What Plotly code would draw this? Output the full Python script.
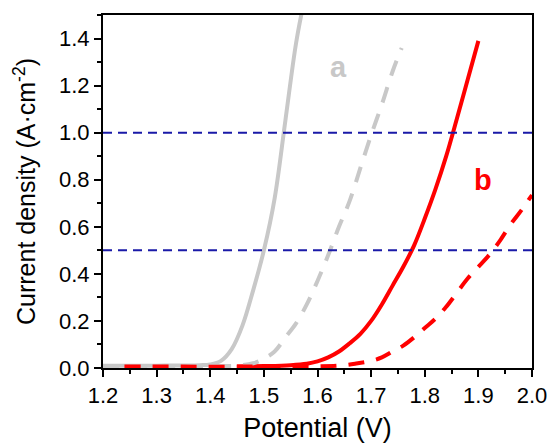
import plotly.graph_objects as go

# Curve a (grey) and curve b (red), solid and dashed
a_solid_v = [1.20, 1.30, 1.38, 1.40, 1.42, 1.44, 1.46, 1.48, 1.50, 1.52, 1.54, 1.56, 1.575]
a_solid_j = [0.010, 0.010, 0.012, 0.015, 0.030, 0.080, 0.180, 0.330, 0.500, 0.720, 1.050, 1.380, 1.560]

a_dash_v = [1.20, 1.40, 1.45, 1.48, 1.50, 1.52, 1.54, 1.56, 1.58, 1.60, 1.62, 1.64, 1.66, 1.68, 1.70, 1.72, 1.74, 1.757]
a_dash_j = [0.008, 0.008, 0.010, 0.020, 0.040, 0.070, 0.130, 0.190, 0.270, 0.370, 0.480, 0.600, 0.710, 0.850, 0.990, 1.120, 1.260, 1.360]

b_solid_v = [1.45, 1.50, 1.55, 1.58, 1.60, 1.62, 1.64, 1.66, 1.68, 1.70, 1.72, 1.74, 1.76, 1.78, 1.80, 1.82, 1.84, 1.86, 1.88, 1.90]
b_solid_j = [0.006, 0.008, 0.012, 0.018, 0.028, 0.045, 0.070, 0.105, 0.145, 0.200, 0.270, 0.350, 0.430, 0.520, 0.635, 0.760, 0.900, 1.060, 1.225, 1.390]

b_dash_v = [1.24, 1.50, 1.60, 1.64, 1.67, 1.70, 1.72, 1.74, 1.76, 1.78, 1.80, 1.82, 1.84, 1.86, 1.88, 1.90, 1.92, 1.94, 1.96, 1.98, 2.00]
b_dash_j = [0.006, 0.006, 0.007, 0.010, 0.018, 0.030, 0.045, 0.070, 0.095, 0.130, 0.170, 0.210, 0.260, 0.320, 0.380, 0.430, 0.480, 0.540, 0.610, 0.670, 0.735]

ref_levels = [1.0, 0.5]
x_ticks = [1.2, 1.3, 1.4, 1.5, 1.6, 1.7, 1.8, 1.9, 2.0]
y_ticks = [0.0, 0.2, 0.4, 0.6, 0.8, 1.0, 1.2, 1.4]
labels = [("a", 1.640, 1.28, "#c8c8c8"), ("b", 1.909, 0.80, "#ff0000")]

GREY = "#c8c8c8"
RED = "#ff0000"
FONT = "Liberation Sans, Arial, sans-serif"

fig = go.Figure()
fig.add_trace(go.Scatter(x=b_solid_v, y=b_solid_j, mode="lines",
                         line=dict(color=RED, width=4, shape="spline")))
fig.add_trace(go.Scatter(x=a_solid_v, y=a_solid_j, mode="lines",
                         line=dict(color=GREY, width=4, shape="spline")))
fig.add_trace(go.Scatter(x=a_dash_v, y=a_dash_j, mode="lines",
                         line=dict(color=GREY, width=4, dash="16px,12px", shape="spline")))
fig.add_trace(go.Scatter(x=b_dash_v, y=b_dash_j, mode="lines",
                         line=dict(color=RED, width=4, dash="16px,12px", shape="spline")))

for lv in ref_levels:
    fig.add_shape(type="line", xref="paper", x0=0, x1=1, yref="y", y0=lv, y1=lv,
                  line=dict(color="#1a1aa8", width=2, dash="9px,6px"))

for txt, xv, yv, col in labels:
    fig.add_annotation(x=xv, y=yv, text="<b>%s</b>" % txt, showarrow=False,
                       font=dict(family=FONT, size=29, color=col))

fig.update_layout(
    width=548, height=443,
    margin=dict(l=103, r=16, t=15, b=75),
    paper_bgcolor="white", plot_bgcolor="white",
    showlegend=False,
    font=dict(family=FONT, color="black"),
)
fig.update_xaxes(range=[1.2, 2.0], tickvals=x_ticks, tickformat=".1f", automargin=False,
                 showgrid=False, zeroline=False, showline=True, linecolor="black", linewidth=2,
                 mirror=True, ticks="outside", ticklen=7, tickwidth=2, tickcolor="black",
                 minor=dict(ticks="outside", ticklen=4, dtick=0.05, tickwidth=1.5, tickcolor="black"),
                 tickfont=dict(size=22, family=FONT),
                 title=dict(text="Potential (V)", font=dict(size=27, family=FONT), standoff=12))
fig.update_yaxes(range=[0, 1.5], tickvals=y_ticks, tickformat=".1f", automargin=False,
                 showgrid=False, zeroline=False, showline=True, linecolor="black", linewidth=2,
                 mirror=True, ticks="outside", ticklen=7, tickwidth=2, tickcolor="black",
                 minor=dict(ticks="outside", ticklen=4, dtick=0.1, tickwidth=1.5, tickcolor="black"),
                 tickfont=dict(size=22, family=FONT),
                 title=dict(text="Current density (A·cm<sup>-2</sup>)", font=dict(size=25, family=FONT), standoff=16))

fig.write_html("out.html")
